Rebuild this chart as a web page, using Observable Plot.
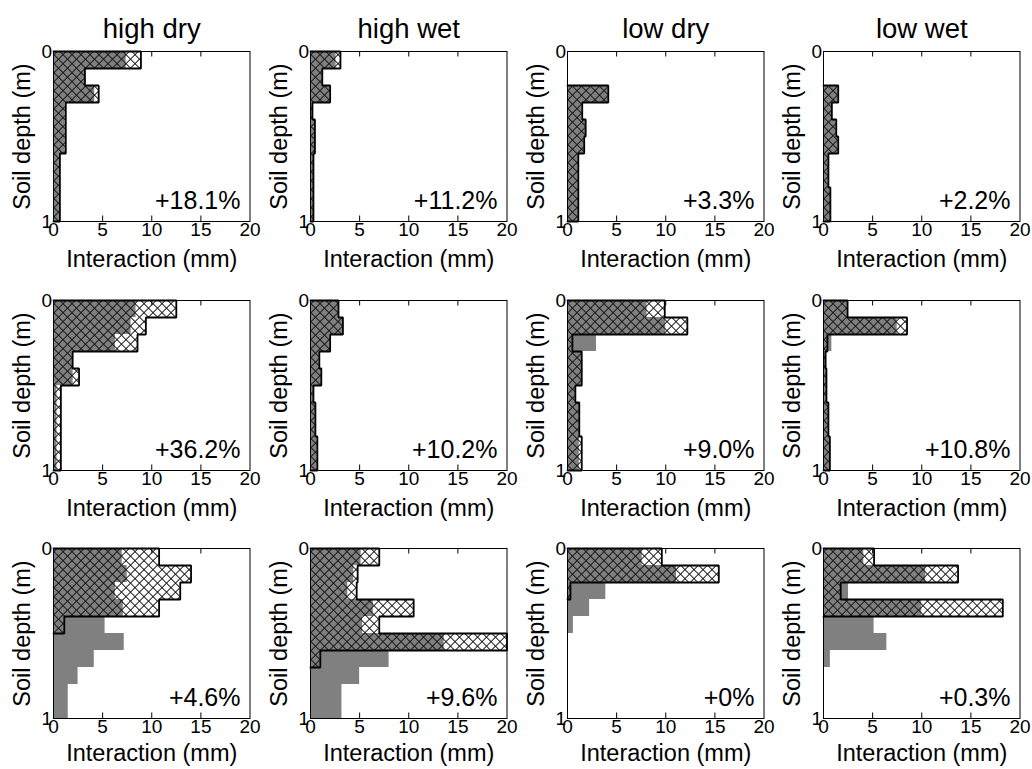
<!DOCTYPE html>
<html>
<head>
<meta charset="utf-8">
<script src="https://cdn.jsdelivr.net/npm/d3@7"></script>
<script src="https://cdn.jsdelivr.net/npm/@observablehq/plot@0.6"></script>
<style>
  body { margin: 0; background: #fff; }
  #chart { position: relative; width: 1032px; height: 769px; overflow: hidden; background: #fff; }
  #chart svg.panel { position: absolute; }
</style>
</head>
<body>
<svg width="0" height="0" style="position:absolute">
  <defs>
    <pattern id="xhatch" patternUnits="userSpaceOnUse" width="6.364" height="6.364" patternTransform="rotate(45)">
      <rect x="0" y="0" width="6.364" height="0.95" fill="#111"></rect>
      <rect x="0" y="0" width="0.95" height="6.364" fill="#111"></rect>
    </pattern>
  </defs>
</svg>
<div id="chart"></div>
<script>
// ---------- data ----------
const columns = ["high dry", "high wet", "low dry", "low wet"];
const layerTop    = [0.0, 0.1, 0.2, 0.3, 0.4, 0.5, 0.6, 0.7, 0.8, 0.9];
const layerBottom = [0.1, 0.2, 0.3, 0.4, 0.5, 0.6, 0.7, 0.8, 0.9, 1.0];
const xTicks = [0, 5, 10, 15, 20];
const yTicks = [0, 1];
const xLabel = "Interaction (mm)";
const yLabel = "Soil depth (m)";

const percentRow1 = ["+18.1%", "+11.2%", "+3.3%", "+2.2%"];
const percentRow2 = ["+36.2%", "+10.2%", "+9.0%", "+10.8%"];
const percentRow3 = ["+4.6%", "+9.6%", "+0%", "+0.3%"];

// solid grey bars (per 0.1 m layer)
const baseRow1 = [
  [7.4, 3.2, 4.2, 1.2, 1.2, 1.2, 0.6, 0.6, 0.6, 0.6],
  [2.6, 1.2, 2.0, 0.2, 0.45, 0.45, 0.3, 0.3, 0.3, 0.3],
  [0, 0, 4.15, 1.5, 1.85, 1.7, 1.1, 1.1, 1.1, 1.1],
  [0, 0, 1.5, 0.85, 1.3, 1.5, 0.5, 0.5, 0.7, 0.7]
];
const baseRow2 = [
  [8.4, 7.9, 6.3, 1.95, 2.0, 0.35, 0.35, 0.35, 0.35, 0.35],
  [2.85, 3.3, 2.0, 0.9, 1.1, 0.3, 0.5, 0.5, 0.7, 0.7],
  [8.1, 10.0, 2.95, 1.45, 1.45, 0.8, 1.2, 1.2, 1.2, 1.2],
  [2.45, 7.5, 0.85, 0.35, 0.3, 0.3, 0.5, 0.5, 0.65, 0.65]
];
const baseRow3 = [
  [7.0, 7.5, 6.3, 7.1, 5.25, 7.2, 4.15, 2.5, 1.5, 1.5],
  [5.15, 4.4, 3.8, 6.4, 5.3, 13.6, 8.0, 5.0, 3.2, 3.2],
  [7.6, 11.1, 3.9, 2.25, 0.6, 0, 0, 0, 0, 0],
  [4.1, 10.4, 2.55, 10.0, 5.15, 6.45, 0.7, 0, 0, 0]
];

// cross-hatched, outlined bars (per 0.1 m layer)
const totalRow1 = [
  [8.9, 3.2, 4.6, 1.25, 1.25, 1.25, 0.65, 0.65, 0.65, 0.65],
  [3.05, 1.2, 2.0, 0.2, 0.45, 0.45, 0.3, 0.3, 0.3, 0.3],
  [0, 0, 4.15, 1.5, 1.85, 1.7, 1.1, 1.1, 1.1, 1.1],
  [0, 0, 1.5, 0.85, 1.3, 1.5, 0.5, 0.5, 0.7, 0.7]
];
const totalRow2 = [
  [12.5, 9.4, 8.55, 1.95, 2.6, 0.75, 0.75, 0.75, 0.75, 0.75],
  [2.85, 3.3, 2.0, 0.9, 1.1, 0.3, 0.5, 0.5, 0.7, 0.7],
  [9.9, 12.2, 0.5, 1.45, 1.45, 0.8, 1.2, 1.2, 1.45, 1.45],
  [2.45, 8.5, 0.4, 0.2, 0.3, 0.3, 0.5, 0.5, 0.65, 0.65]
];
const totalRow3 = [
  [10.75, 14.0, 12.9, 10.75, 1.1, 0, 0, 0, 0, 0],
  [7.0, 4.8, 4.7, 10.5, 7.0, 20, 1.0, 0, 0, 0],
  [9.6, 15.4, 0.3, 0, 0, 0, 0, 0, 0, 0],
  [5.15, 13.7, 1.75, 18.25, 0, 0, 0, 0, 0, 0]
];

// ---------- layout ----------
const bases = [baseRow1, baseRow2, baseRow3];
const totals = [totalRow1, totalRow2, totalRow3];
const percents = [percentRow1, percentRow2, percentRow3];
const boxLefts = [52.7, 310, 566.7, 823.3];
const boxTops = [51, 299.5, 548.3];
const xLabelOffsets = [45, 45, 42];
const boxW = 196.5, boxH = 170;
const mL = 53, mT = 51, mR = 9, mB = 50;
const FONT = "'Liberation Sans', Arial, Helvetica, sans-serif";

function stepPoints(vals) {
  const pts = [];
  vals.forEach((v, i) => {
    pts.push({v, d: layerTop[i]});
    pts.push({v, d: layerBottom[i]});
  });
  return pts;
}
function outlinePoints(vals) {
  let first = vals.findIndex(v => v > 0);
  if (first < 0) return [];
  let last = vals.length - 1;
  while (vals[last] <= 0) last--;
  const pts = [{v: 0, d: layerTop[first]}];
  for (let i = first; i <= last; i++) {
    pts.push({v: vals[i], d: layerTop[i]});
    pts.push({v: vals[i], d: layerBottom[i]});
  }
  pts.push({v: 0, d: layerBottom[last]});
  return pts;
}

const chart = document.getElementById("chart");
for (let r = 0; r < 3; r++) {
  for (let c = 0; c < 4; c++) {
    const base = bases[r][c], total = totals[r][c];
    const marks = [
      Plot.ruleX(xTicks.slice(1, -1), {stroke: "black", strokeWidth: 1, insetBottom: boxH - 5.5}),
      Plot.ruleX(xTicks.slice(1, -1), {stroke: "black", strokeWidth: 1, insetTop: boxH - 5.5}),
      Plot.areaX(stepPoints(base), {x1: 0, x2: "v", y: "d", fill: "#808080"}),
      Plot.areaX(stepPoints(total), {x1: 0, x2: "v", y: "d", fill: "url(#xhatch)"}),
      Plot.line(outlinePoints(total), {x: "v", y: "d", stroke: "black", strokeWidth: 1.8, strokeLinejoin: "miter"}),
      Plot.frame({stroke: "black", strokeWidth: 1}),
      Plot.axisX(xTicks, {anchor: "bottom", tickSize: 0, tickPadding: 1, fontSize: 19, label: null, tickFormat: d => String(d), fill: "black"}),
      Plot.axisY(yTicks, {anchor: "left", tickSize: 0, tickPadding: 1.5, fontSize: 19, label: null, tickFormat: d => String(d), fill: "black"}),
      Plot.text([xLabel], {text: d => d, frameAnchor: "bottom", dy: xLabelOffsets[r], lineAnchor: "bottom", textAnchor: "middle", fontSize: 23.5, fill: "black"}),
      Plot.text([yLabel], {text: d => d, frameAnchor: "left", dx: -24, rotate: -90, lineAnchor: "bottom", textAnchor: "middle", fontSize: 23.5, fill: "black"}),
      Plot.text([percents[r][c]], {text: d => d, frameAnchor: "bottom-right", dx: -9.5, dy: -13, lineAnchor: "bottom", textAnchor: "end", fontSize: 25, fill: "black"})
    ];
    if (r === 0) {
      marks.push(Plot.text([columns[c]], {text: d => d, frameAnchor: "top", dy: -14, lineAnchor: "bottom", textAnchor: "middle", fontSize: 27.5, fill: "black"}));
    }
    const svg = Plot.plot({
      width: mL + boxW + mR,
      height: mT + boxH + mB,
      marginLeft: mL, marginRight: mR, marginTop: mT, marginBottom: mB,
      x: {domain: [0, 20]},
      y: {domain: [0, 1], reverse: true},
      style: {background: "none", color: "black", fontFamily: FONT, fontSize: "19px", overflow: "visible"},
      marks
    });
    svg.classList.add("panel");
    svg.style.left = (boxLefts[c] - mL) + "px";
    svg.style.top = (boxTops[r] - mT) + "px";
    chart.appendChild(svg);
  }
}
</script>
</body>
</html>
